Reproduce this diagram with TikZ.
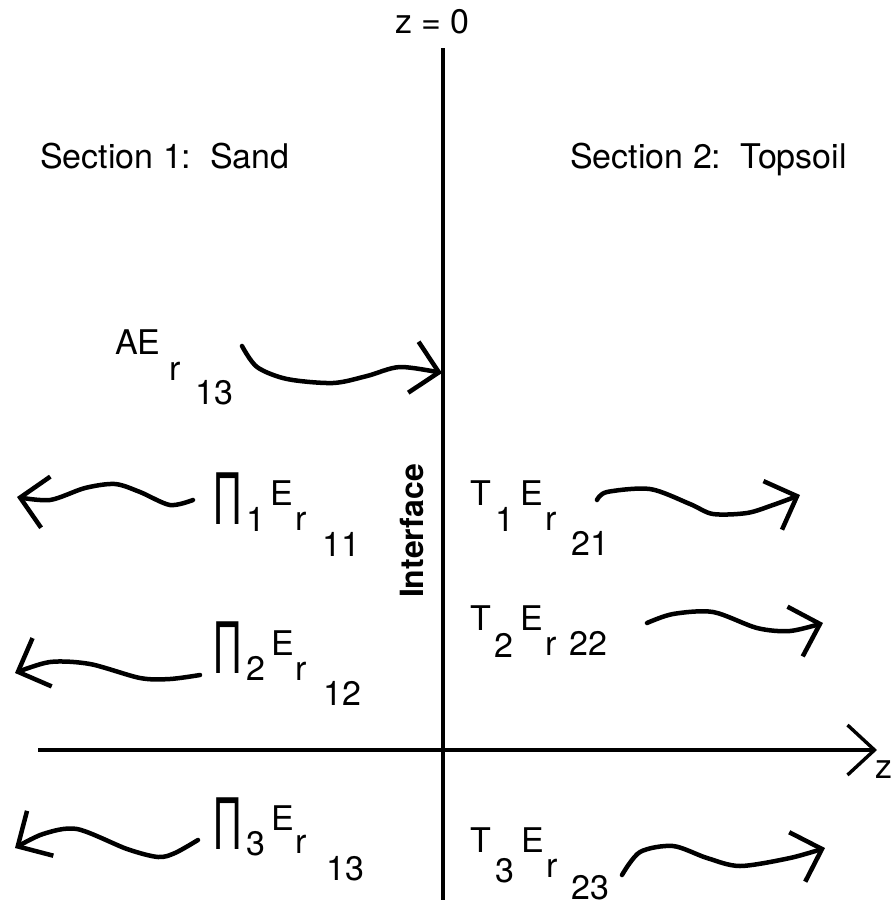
\documentclass[tikz,border=0pt]{standalone}
\usepackage{fontspec}
\setmainfont{TeX Gyre Heros}
\usepackage{graphicx}
\usetikzlibrary{arrows.meta}

\begin{document}
\begin{tikzpicture}[
    x=1pt, y=-1pt,
    lbl/.style={inner sep=0pt, anchor=base west, font=\fontsize{34}{38}\selectfont},
    bigpi/.style={inner sep=0pt, anchor=north west, font=\fontsize{33}{36}\selectfont},
    axis/.style={line width=3.4pt},
    wave/.style={line width=4.5pt, line cap=round, -{Straight Barb[length=26pt, width=52pt]}}
]
\useasboundingbox (0,0) rectangle (891,906);

% Top: interface line and headings
\node[lbl] (zero) at (395,33) {z = 0};
\coordinate (itop) at (443,48);
\coordinate (ibot) at (443,900);
\draw[axis] (itop) -- (ibot);
\node[lbl, rotate=90, anchor=center, font=\fontsize{32}{36}\selectfont\bfseries] (iface) at (412,531) {Interface};

\node[lbl] (sec1) at (40,168) {Section 1:\ \ Sand};
\node[lbl] (sec2) at (570,168) {Section 2:\ \ Topsoil};

% z axis
\coordinate (zl) at (38,750);
\coordinate (zr) at (877,750);
\draw[axis, -{Straight Barb[length=27pt, width=50pt]}] (zl) -- (zr);
\node[lbl] (zlab) at (875,778) {z};

% Incident wave
\node[lbl] (ae) at (115,354) {AE};
\node[lbl] (aer) at (169,380) {r};
\node[lbl] (aen) at (195,404) {13};
\coordinate (a0s) at (242,346);
\coordinate (a0t) at (442,373);
\draw[wave] plot[smooth] coordinates {(a0s) (257,367) (287,379) (333,383) (367,376) (400,367) (a0t)};

% Left: reflected waves
\node[bigpi] (p1) at (215,473) {\scalebox{1.2}[2.15]{Π}};
\node[lbl] (p1n) at (246,531) {1};
\node[lbl] (p1e) at (270,505) {E};
\node[lbl] (p1r) at (295,530) {r};
\node[lbl] (p1m) at (322,556) {11};

\node[bigpi] (p2) at (215,622) {\scalebox{1.2}[2.15]{Π}};
\node[lbl] (p2n) at (246,680) {2};
\node[lbl] (p2e) at (271,655) {E};
\node[lbl] (p2r) at (295,680) {r};
\node[lbl] (p2m) at (323,705) {12};

\node[bigpi] (p3) at (215,798) {\scalebox{1.2}[2.15]{Π}};
\node[lbl] (p3n) at (246,855) {3};
\node[lbl] (p3e) at (271,830) {E};
\node[lbl] (p3r) at (295,853) {r};
\node[lbl] (p3m) at (326,880) {13};

\coordinate (a1s) at (193,500);
\coordinate (a1t) at (17,497);
\draw[wave] plot[smooth] coordinates {(a1s) (170,505) (140,492) (115,484) (85,488) (50,500) (a1t)};
\coordinate (a2s) at (200,675);
\coordinate (a2t) at (15,673);
\draw[wave] plot[smooth] coordinates {(a2s) (170,679) (140,678) (90,664) (50,662) (a2t)};
\coordinate (a3s) at (198,840);
\coordinate (a3t) at (15,848);
\draw[wave] plot[smooth] coordinates {(a3s) (175,853) (158,857) (127,849) (77,829) (43,834) (a3t)};

% Right: transmitted waves
\node[lbl] (t1) at (470,505) {T};
\node[lbl] (t1n) at (495,531) {1};
\node[lbl] (t1e) at (520,505) {E};
\node[lbl] (t1r) at (545,530) {r};
\node[lbl] (t1m) at (571,555) {21};

\node[lbl] (t2) at (470,630) {T};
\node[lbl] (t2n) at (494,657) {2};
\node[lbl] (t2e) at (520,630) {E};
\node[lbl] (t2r) at (545,655) {r};
\node[lbl] (t2m) at (569,655) {22};

\node[lbl] (t3) at (470,852) {T};
\node[lbl] (t3n) at (495,882) {3};
\node[lbl] (t3e) at (521,852) {E};
\node[lbl] (t3r) at (546,877) {r};
\node[lbl] (t3m) at (571,899) {23};

\coordinate (b1s) at (597,500);
\coordinate (b1t) at (800,495);
\draw[wave] plot[smooth] coordinates {(b1s) (607,492) (650,489) (690,504) (713,514) (747,513) (773,505) (b1t)};
\coordinate (b2s) at (647,623);
\coordinate (b2t) at (823,623);
\draw[wave] plot[smooth] coordinates {(b2s) (673,614) (713,612) (757,628) (790,631) (b2t)};
\coordinate (b3s) at (622,875);
\coordinate (b3t) at (825,848);
\draw[wave] plot[smooth] coordinates {(b3s) (640,852) (673,846) (707,858) (740,866) (790,858) (b3t)};

\end{tikzpicture}
\end{document}
